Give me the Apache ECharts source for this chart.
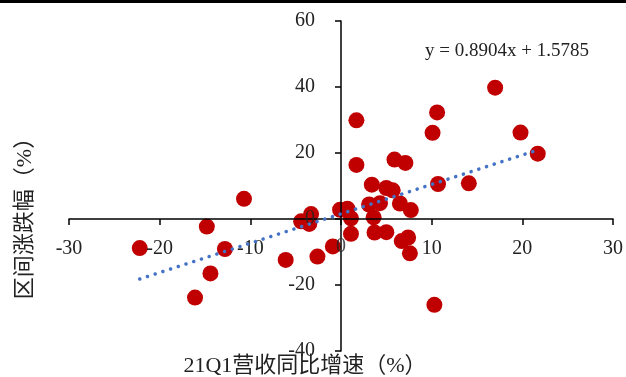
<!DOCTYPE html>
<html>
<head>
<meta charset="utf-8">
<script src="https://cdn.jsdelivr.net/npm/echarts@6/dist/echarts.min.js"></script>
<style>html,body{margin:0;padding:0;background:#fff}#c{width:626px;height:377px}</style>
</head>
<body>
<div id="c"></div>
<script>
// Data
var revenueGrowth = [-22.2,-16.1,-14.8,-14.4,-12.8,-10.7,-6.1,-4.4,-3.3,-3.5,-2.6,-0.9,-0.1,0.7,1.1,1.1,1.7,1.7,3.1,4.3,3.4,3.6,3.7,5.0,5.0,5.7,5.9,7.1,6.5,7.7,6.7,7.4,7.6,10.1,10.6,10.7,10.3,14.1,17.0,19.8,21.7];
var priceChange   = [-8.8,-23.8,-2.3,-16.5,-9.1,6.1,-12.4,-0.7,1.5,-1.5,-11.4,-8.3,2.8,3.1,0.2,-4.5,29.9,16.4,4.4,4.8,10.4,0.5,-4.1,-4.0,9.4,8.7,18.0,17.0,4.7,2.7,-6.7,-5.6,-10.4,26.1,32.3,10.6,-26.0,10.8,39.8,26.2,19.8];
var trendCoef = [0.8904, 1.5785]; // slope, intercept
var xTicks = [-30,-20,-10,0,10,20,30];
var yTicks = [-40,-20,0,20,40,60];
var xAxisTitle = '21Q1营收同比增速（%）';
var yAxisTitle = '区间涨跌幅（%）';
var equationText = 'y = 0.8904x + 1.5785';

var pts = revenueGrowth.map(function(x,i){return [x, priceChange[i]];});
var xMin = Math.min.apply(null, revenueGrowth), xMax = Math.max.apply(null, revenueGrowth);
var trend = [[xMin, trendCoef[0]*xMin+trendCoef[1]],[xMax, trendCoef[0]*xMax+trendCoef[1]]];

// layout
var W = 626, H = 377, gl = 69, gr = 13, gt = 21, gb = 26;
var gw = W - gl - gr, gh = H - gt - gb;
var x0 = xTicks[0], x1 = xTicks[xTicks.length-1], y0 = yTicks[0], y1 = yTicks[yTicks.length-1];
// shift axes so they cross at zero
var xAxisOffset = -gh * (0 - y0) / (y1 - y0);
var yAxisOffset = -gw * (0 - x0) / (x1 - x0);
var xLabelMargin = 20, yLabelMargin = 26, labelSize = 20;

var serif = '"Liberation Serif","Noto Sans CJK SC",serif';
function noZero(v){ return v === 0 ? '' : String(v); }
var zeroLabelStyle = {show:true, color:'#222', fontFamily:serif, fontSize:labelSize, formatter:'0'};
var chart = echarts.init(document.getElementById('c'), null, {renderer:'canvas'});
chart.setOption({
  animation:false,
  grid:{left:gl, right:gr, top:gt, bottom:gb, containLabel:false},
  xAxis:{type:'value', min:x0, max:x1, interval:10, position:'bottom', offset:xAxisOffset, zlevel:1,
    axisLine:{onZero:false, lineStyle:{color:'#000', width:1.5}},
    axisTick:{show:true, inside:false, length:6, lineStyle:{color:'#000', width:1.5}},
    axisLabel:{color:'#222', fontFamily:serif, fontSize:labelSize, margin:xLabelMargin, formatter:noZero, showMinLabel:true, showMaxLabel:true, hideOverlap:false},
    splitLine:{show:false}},
  yAxis:{type:'value', min:y0, max:y1, interval:20, position:'left', offset:yAxisOffset, zlevel:1,
    axisLine:{onZero:false, lineStyle:{color:'#000', width:1.5}},
    axisTick:{show:true, inside:false, length:6, lineStyle:{color:'#000', width:1.5}},
    axisLabel:{color:'#222', fontFamily:serif, fontSize:labelSize, margin:yLabelMargin, formatter:noZero, showMinLabel:true, showMaxLabel:true, hideOverlap:false},
    splitLine:{show:false}},
  series:[
    {type:'scatter', data:pts, symbol:'circle', symbolSize:16, itemStyle:{color:'#C00000', opacity:1}, z:2},
    {type:'line', data:trend, symbol:'none', z:3, zlevel:2,
      lineStyle:{color:'#4472C4', width:3.5, type:[0.1,8], cap:'round'}},
    // zero tick labels of both axes (placed at the origin through the chart's scales)
    {type:'scatter', zlevel:1, z:50, symbolSize:0, silent:true,
      data:[
        {value:[xTicks[3], yTicks[2]], label:Object.assign({position:'bottom', distance:xLabelMargin - 2}, zeroLabelStyle)},
        {value:[xTicks[3], yTicks[2]], label:Object.assign({position:'left', distance:yLabelMargin}, zeroLabelStyle)}
      ],
      labelLayout:{hideOverlap:false}}
  ],
  graphic:[
    {type:'rect', shape:{x:0,y:0,width:W,height:3}, style:{fill:'#000'}},
    {type:'text', left:425, top:42, style:{text:equationText, font:'19px '+serif, fill:'#222'}},
    {type:'text', x:305, y:366, style:{text:xAxisTitle, font:'22px '+serif, fill:'#222', align:'center', verticalAlign:'middle'}},
    {type:'text', x:25, y:213, rotation:Math.PI/2, style:{text:yAxisTitle, font:'22px '+serif, fill:'#222', align:'center', verticalAlign:'middle'}}
  ]
});
</script>
</body>
</html>
